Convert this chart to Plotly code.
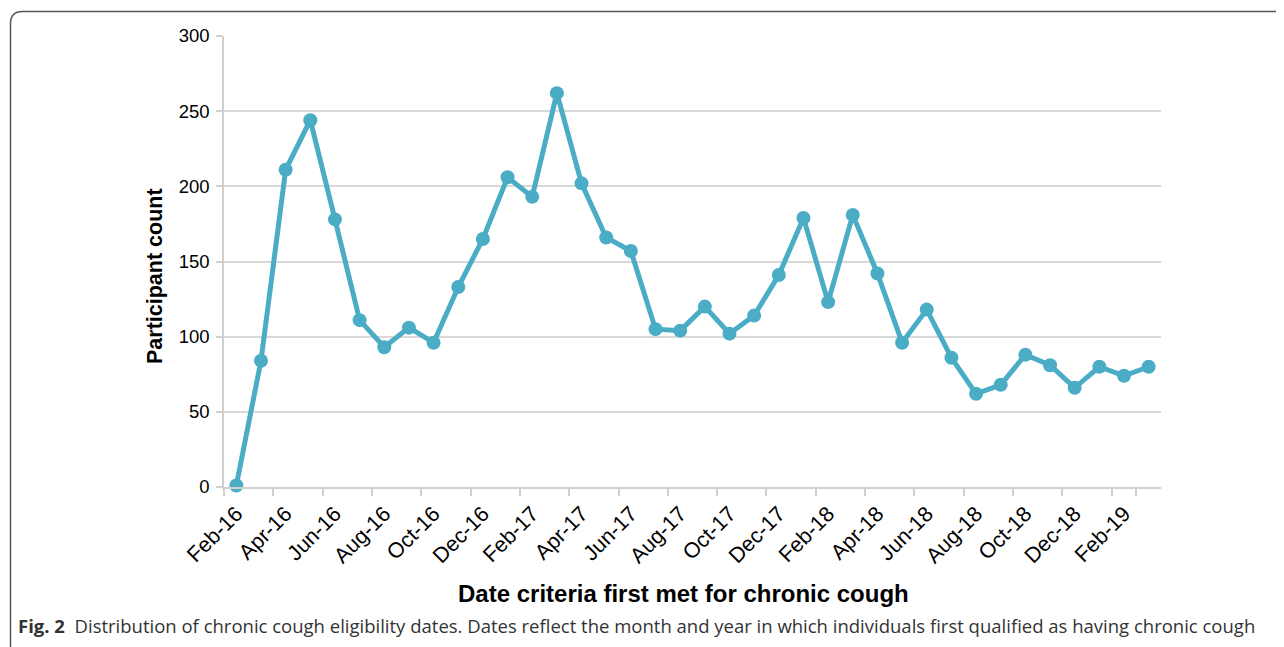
import plotly.graph_objects as go

months = ["Feb-16", "Mar-16", "Apr-16", "May-16", "Jun-16", "Jul-16", "Aug-16", "Sep-16",
          "Oct-16", "Nov-16", "Dec-16", "Jan-17", "Feb-17", "Mar-17", "Apr-17", "May-17",
          "Jun-17", "Jul-17", "Aug-17", "Sep-17", "Oct-17", "Nov-17", "Dec-17", "Jan-18",
          "Feb-18", "Mar-18", "Apr-18", "May-18", "Jun-18", "Jul-18", "Aug-18", "Sep-18",
          "Oct-18", "Nov-18", "Dec-18", "Jan-19", "Feb-19", "Mar-19"]
counts = [1, 84, 211, 244, 178, 111, 93, 106, 96, 133, 165, 206, 193, 262, 202, 166,
          157, 105, 104, 120, 102, 114, 141, 179, 123, 181, 142, 96, 118, 86, 62, 68,
          88, 81, 66, 80, 74, 80]
y_ticks = [0, 50, 100, 150, 200, 250, 300]

# page has an 8px body margin: work in screen pixels, convert to figure pixels
OFF = 8
W, H = 1284 - OFF, 647 - OFF
PL, PR, PT, PB = 224, 1161, 36, 487          # plot area in screen pixels
L, T = PL - OFF, PT - OFF
R = W - (PR - OFF)
B = H - (PB - OFF)
pw, ph = PR - PL, PB - PT

def px(x):
    return (x - PL) / pw

def py(y):
    return (PB - y) / ph

color = "#4BACC6"
fig = go.Figure()
fig.add_trace(go.Scatter(
    x=months, y=counts, mode="lines+markers",
    line=dict(color=color, width=5),
    marker=dict(color=color, size=14),
    cliponaxis=False, showlegend=False,
))

axis_gray = "#d0d0d0"
fig.update_layout(
    width=W, height=H,
    margin=dict(l=L, r=R, t=T, b=B, autoexpand=False),
    paper_bgcolor="white", plot_bgcolor="white",
    font=dict(family="Liberation Sans, Arial, sans-serif", color="#000000"),
    xaxis=dict(
        type="category", categoryorder="array", categoryarray=months,
        range=[-0.5, len(months) - 0.5],
        tickmode="array", tickvals=months[::2], ticktext=months[::2],
        tickangle=-45, tickfont=dict(size=21.5),
        ticks="outside", tickson="boundaries", ticklen=7, tickcolor=axis_gray, tickwidth=1.5,
        ticklabelstandoff=4,
        showline=True, linecolor=axis_gray, linewidth=1.5,
        showgrid=False, zeroline=False,
    ),
    yaxis=dict(
        range=[0, 300], tickmode="array", tickvals=y_ticks,
        tickfont=dict(size=18.5),
        ticks="outside", ticklen=6, tickcolor=axis_gray, tickwidth=1.5,
        ticklabelstandoff=3,
        showline=True, linecolor=axis_gray, linewidth=1.5,
        showgrid=True, gridcolor="#d9d9d9", gridwidth=1.5, zeroline=False,
    ),
)

# axis titles
fig.add_annotation(xref="paper", yref="paper", x=px(683), y=py(593),
                   xanchor="center", yanchor="middle", showarrow=False,
                   text="<b>Date criteria first met for chronic cough</b>",
                   font=dict(size=24))
fig.add_annotation(xref="paper", yref="paper", x=px(155), y=py(276),
                   xanchor="center", yanchor="middle", showarrow=False, textangle=-90,
                   text="<b>Participant count</b>", font=dict(size=21.5))

# figure frame (left and top edges, rounded top-left corner)
x0, y0, r = 10.5, 11.5, 12
path = (f"M {px(x0)},{py(660)} L {px(x0)},{py(y0 + r)} "
        f"Q {px(x0)},{py(y0)} {px(x0 + r)},{py(y0)} L {px(1300)},{py(y0)}")
fig.add_shape(type="path", path=path, xref="paper", yref="paper",
              line=dict(color="#555555", width=1.5), layer="above")

fig.add_annotation(
    xref="paper", yref="paper", x=px(16), y=py(625), xanchor="left", yanchor="middle",
    showarrow=False,
    text="<b>Fig. 2</b>  Distribution of chronic cough eligibility dates. Dates reflect the month and year in which individuals first qualified as having chronic cough",
    font=dict(family="Open Sans, Noto Sans, sans-serif", size=18.5, color="#333333"),
)

fig.write_html("out.html")
